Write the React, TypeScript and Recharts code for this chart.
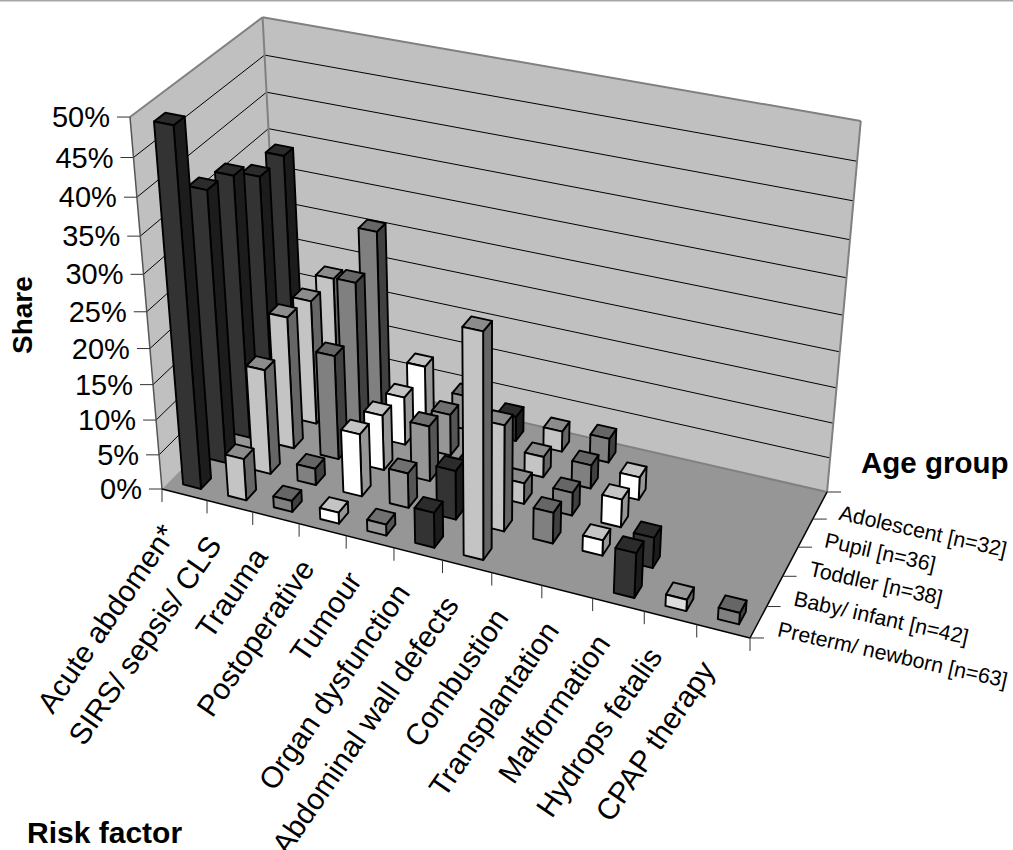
import React from "react";
import { ReferenceLine, Scatter, ScatterChart, XAxis, YAxis } from "recharts";

const WIDTH = 1013;
const HEIGHT = 850;
const FONT = '"Liberation Sans", Arial, sans-serif';

const riskFactors = [
  "Acute abdomen*",
  "SIRS/ sepsis/ CLS",
  "Trauma",
  "Postoperative",
  "Tumour",
  "Organ dysfunction",
  "Abdominal wall defects",
  "Combustion",
  "Transplantation",
  "Malformation",
  "Hydrops fetalis",
  "CPAP therapy",
];

// front row first
const ageGroups = [
  "Preterm/ newborn [n=63]",
  "Baby/ infant [n=42]",
  "Toddler [n=38]",
  "Pupil [n=36]",
  "Adolescent [n=32]",
];

// share in percent, one entry per risk factor
const preterm = [49, 6, 1.6, 1.6, 1.6, 5, 31, 0, 0, 6.3, 1.6, 1.6];
const baby = [38, 15, 2.4, 9, 5, 7, 15, 4.4, 2.2, 4.3, 0, 0];
const toddler = [37, 19, 15, 8, 8, 4, 3, 3.3, 4, 0, 0, 0];
const pupil = [34, 18, 22, 7, 6, 3, 3, 3.4, 3.3, 0, 0, 0];
const adolescent = [34, 18, 26, 8, 5, 3.6, 3, 3.5, 0, 0, 0, 0];
const shareByAge = [preterm, baby, toddler, pupil, adolescent];

const valueTicks = [0, 5, 10, 15, 20, 25, 30, 35, 40, 45, 50];
const MAX_VALUE = 50;

// front, side, top shade of the boxes for each risk factor
const DARK = ["#333333", "#1c1c1c", "#2b2b2b"];
const PALE = ["#c4c4c4", "#666666", "#8c8c8c"];
const MID = ["#808080", "#404040", "#666666"];
const WHITE = ["#ffffff", "#969696", "#c4c4c4"];
const shades = [
  DARK,
  PALE,
  MID,
  WHITE,
  ["#969696", "#555555", "#707070"],
  DARK,
  PALE,
  MID,
  WHITE,
  DARK,
  ["#dddddd", "#666666", "#999999"],
  MID,
];

// perspective projection of the unit box (u along risk factors, v into depth, w up)
const G = -0.0879;
const H = 0.0893;
const R = -0.09;
const project = (u: number, v: number, w: number) => {
  const d = 1 + G * u + H * v + R * w;
  return {
    x: (522.1 * u + 144.1 * v - 43.7 * w + 162) / d,
    y: (92.9 * u - 89.2 * v - 382.5 * w + 489) / d,
  };
};

const pts = (corners: number[][]) =>
  corners
    .map(([u, v, w]) => {
      const p = project(u, v, w);
      return `${p.x},${p.y}`;
    })
    .join(" ");

const seg = (a: number[], b: number[], stroke: string, strokeWidth: number, key?: string) => {
  const p = project(a[0], a[1], a[2]);
  const q = project(b[0], b[1], b[2]);
  return <line key={key} x1={p.x} y1={p.y} x2={q.x} y2={q.y} stroke={stroke} strokeWidth={strokeWidth} />;
};

const anchor = (u: number, v: number, w: number) => {
  const p = project(u, v, w);
  return { sx: p.x, sy: p.y };
};

// the chart's scale places each shape, everything else hangs off that point
const Placed = ({ cx, cy, payload, children }: any) => (
  <g transform={`translate(${cx - payload.sx},${cy - payload.sy})`}>{children}</g>
);

const WallsShape = (props: any) => (
  <Placed {...props}>
    <polygon points={pts([[0, 0, 0], [0, 1, 0], [0, 1, 1], [0, 0, 1]])} fill="#c0c0c0" />
    <polygon points={pts([[0, 1, 0], [1, 1, 0], [1, 1, 1], [0, 1, 1]])} fill="#c0c0c0" />
    {valueTicks.slice(1, -1).map((t) => (
      <g key={t}>
        {seg([0, 0, t / MAX_VALUE], [0, 1, t / MAX_VALUE], "#000", 1)}
        {seg([0, 1, t / MAX_VALUE], [1, 1, t / MAX_VALUE], "#000", 1)}
      </g>
    ))}
    <polygon points={pts([[0, 0, 0], [1, 0, 0], [1, 1, 0], [0, 1, 0]])} fill="#969696" />
    {seg([0, 0, 1], [0, 1, 1], "#808080", 2)}
    {seg([0, 1, 1], [1, 1, 1], "#808080", 2)}
    {seg([0, 1, 0], [0, 1, 1], "#808080", 2)}
    {seg([1, 1, 0], [1, 1, 1], "#808080", 2)}
    {seg([0, 1, 0], [1, 1, 0], "#808080", 2)}
    {seg([0, 0, 0], [0, 0, 1], "#555555", 1.5)}
    {seg([0, 0, 0], [1, 0, 0], "#000", 1.5)}
    {seg([1, 0, 0], [1, 1, 0], "#000", 1.5)}
  </Placed>
);

const ValueTickShape = (props: any) => {
  const { label, sx, sy } = props.payload;
  return (
    <Placed {...props}>
      <line x1={sx - 13} y1={sy} x2={sx} y2={sy} stroke="#333" strokeWidth={1} />
      <text x={sx - 20} y={sy + 10} textAnchor="end" fontSize={29} fontFamily={FONT} fill="#000">
        {label}
      </text>
    </Placed>
  );
};

const RiskTickShape = (props: any) => {
  const { edgeX, edgeY, label, tx, ty } = props.payload;
  return (
    <Placed {...props}>
      {edgeX != null && <line x1={edgeX} y1={edgeY} x2={edgeX} y2={edgeY + 13} stroke="#333" strokeWidth={1} />}
      {label && (
        <text
          transform={`translate(${tx},${ty}) rotate(-55.5)`}
          textAnchor="end"
          fontSize={29.8}
          fontFamily={FONT}
          fill="#000"
        >
          {label}
        </text>
      )}
    </Placed>
  );
};

const AgeTickShape = (props: any) => {
  const { edgeX, edgeY, label, tx, ty } = props.payload;
  return (
    <Placed {...props}>
      {edgeX != null && <line x1={edgeX} y1={edgeY} x2={edgeX + 14} y2={edgeY} stroke="#333" strokeWidth={1} />}
      {label && (
        <text transform={`translate(${tx},${ty}) rotate(12.7)`} fontSize={21.3} fontFamily={FONT} fill="#000">
          {label}
        </text>
      )}
    </Placed>
  );
};

const TitleShape = (props: any) => {
  const { label, rotate, size } = props.payload;
  return (
    <text
      transform={`translate(${props.cx},${props.cy}) rotate(${rotate})`}
      fontSize={size}
      fontWeight="bold"
      fontFamily={FONT}
      fill="#000"
    >
      {label}
    </text>
  );
};

const BarShape = (props: any) => {
  const { u0, u1, v0, v1, w, shade } = props.payload;
  const line = { stroke: "#000", strokeWidth: 1.9, strokeLinejoin: "round" as const };
  return (
    <Placed {...props}>
      <polygon points={pts([[u1, v0, 0], [u1, v1, 0], [u1, v1, w], [u1, v0, w]])} fill={shade[1]} {...line} />
      <polygon points={pts([[u0, v0, w], [u1, v0, w], [u1, v1, w], [u0, v1, w]])} fill={shade[2]} {...line} />
      <polygon points={pts([[u0, v0, 0], [u1, v0, 0], [u1, v0, w], [u0, v0, w]])} fill={shade[0]} {...line} />
    </Placed>
  );
};

const CAT_STEP = 1 / riskFactors.length;
const ROW_STEP = 1 / ageGroups.length;
const BAR_SHARE = 0.4;

const barRow = (values: number[], row: number) =>
  values
    .map((value, i) => {
      const uc = (i + 0.5) * CAT_STEP;
      const vc = (row + 0.5) * ROW_STEP;
      return {
        ...anchor(uc, vc, 0),
        value,
        u0: uc - (CAT_STEP * BAR_SHARE) / 2,
        u1: uc + (CAT_STEP * BAR_SHARE) / 2,
        v0: vc - (ROW_STEP * BAR_SHARE) / 2,
        v1: vc + (ROW_STEP * BAR_SHARE) / 2,
        w: value / MAX_VALUE,
        shade: shades[i],
      };
    })
    .filter((d) => d.value > 0);

const wallData = [anchor(0, 0, 0)];

const valueTickData = valueTicks.map((t) => ({
  ...anchor(0, 0, t / MAX_VALUE),
  label: `${t}%`,
}));

// tick marks sit on category borders, labels under category centres
const riskTickData = [
  ...riskFactors.map((_, i) => {
    const e = project(i * CAT_STEP, 0, 0);
    const c = project((i + 0.5) * CAT_STEP, 0, 0);
    return { ...anchor(i * CAT_STEP, 0, 0), edgeX: e.x, edgeY: e.y, label: riskFactors[i], tx: c.x - 7, ty: c.y + 39 };
  }),
  { ...anchor(1, 0, 0), edgeX: project(1, 0, 0).x, edgeY: project(1, 0, 0).y },
];

const ageTickData = [
  ...ageGroups.map((label, i) => {
    const e = project(1, i * ROW_STEP, 0);
    const c = project(1, (i + 0.5) * ROW_STEP, 0);
    return { ...anchor(1, i * ROW_STEP, 0), edgeX: e.x, edgeY: e.y, label, tx: c.x + 18, ty: c.y + 14 };
  }),
  { ...anchor(1, 1, 0), edgeX: project(1, 1, 0).x, edgeY: project(1, 1, 0).y },
];

const titleData = [
  { sx: 861, sy: 473, label: "Age group", rotate: 0, size: 29.5 },
  { sx: 27, sy: 843, label: "Risk factor", rotate: 0, size: 30 },
  { sx: 32, sy: 354, label: "Share", rotate: -90, size: 28 },
];

export default function App() {
  return (
    <div style={{ position: "absolute", left: 0, top: 0, width: WIDTH, height: HEIGHT, overflow: "hidden" }}>
      <ScatterChart width={WIDTH} height={HEIGHT} margin={{ top: 0, right: 0, bottom: 0, left: 0 }}>
        <XAxis type="number" dataKey="sx" domain={[0, WIDTH]} hide />
        <YAxis type="number" dataKey="sy" domain={[0, HEIGHT]} reversed hide />
        <ReferenceLine y={0} stroke="#a6a6a6" strokeWidth={3} />
        <Scatter data={wallData} shape={WallsShape} isAnimationActive={false} />
        <Scatter data={valueTickData} shape={ValueTickShape} isAnimationActive={false} />
        <Scatter data={riskTickData} shape={RiskTickShape} isAnimationActive={false} />
        <Scatter data={ageTickData} shape={AgeTickShape} isAnimationActive={false} />
        {/* back row first so nearer boxes cover the ones behind */}
        {shareByAge
          .map((values, row) => (
            <Scatter key={ageGroups[row]} name={ageGroups[row]} data={barRow(values, row)} shape={BarShape} isAnimationActive={false} />
          ))
          .reverse()}
        <Scatter data={titleData} shape={TitleShape} isAnimationActive={false} />
      </ScatterChart>
    </div>
  );
}
